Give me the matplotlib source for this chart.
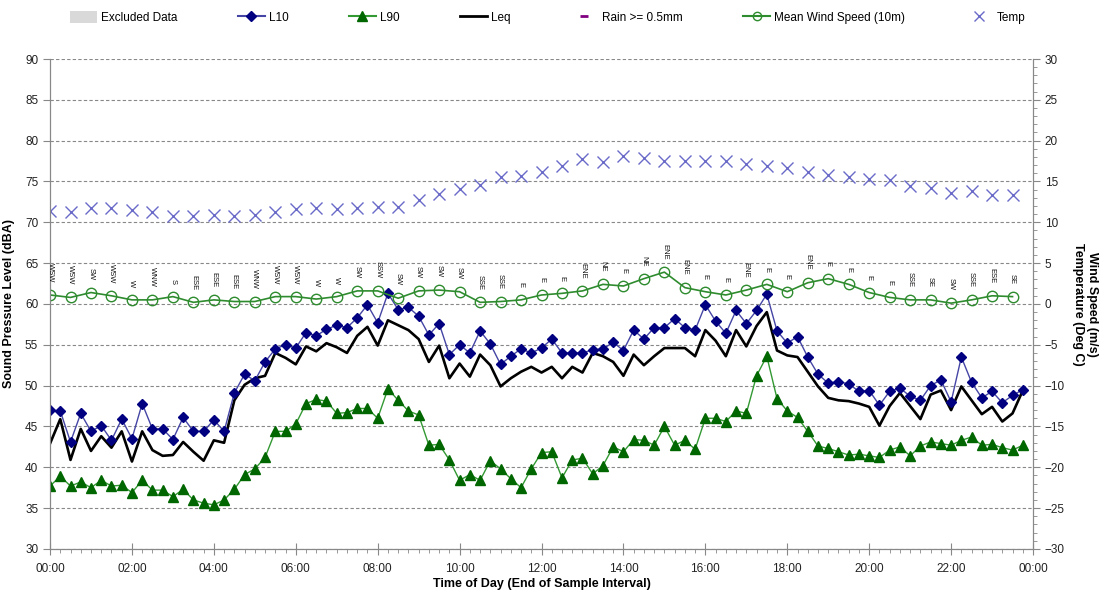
import matplotlib
matplotlib.use("Agg")
import matplotlib.pyplot as plt
from matplotlib.lines import Line2D
from matplotlib.patches import Patch
from matplotlib.ticker import MultipleLocator, FuncFormatter
import numpy as np

plt.rcParams["font.family"] = ["Liberation Sans", "DejaVu Sans"]

# sound levels, 15 minute intervals from 00:00 (dBA)
l10 = [47.0, 46.9, 43.1, 46.6, 44.4, 45.1, 43.3, 45.9, 43.5, 47.8, 44.7, 44.7,
       43.4, 46.1, 44.4, 44.4, 45.8, 44.4, 49.1, 51.4, 50.6, 52.9, 54.5, 55.0,
       54.6, 56.5, 56.1, 56.9, 57.4, 57.1, 58.3, 59.9, 57.7, 61.3, 59.3, 59.6,
       58.5, 56.2, 57.6, 53.8, 55.0, 54.0, 56.7, 55.1, 52.6, 53.6, 54.5, 54.0,
       54.6, 55.7, 54.0, 54.0, 54.0, 54.4, 54.5, 55.3, 54.3, 56.8, 55.7, 57.1,
       57.1, 58.2, 57.1, 56.8, 59.9, 57.9, 56.4, 59.2, 57.6, 59.2, 61.2, 56.7,
       55.2, 56.0, 53.5, 51.4, 50.3, 50.5, 50.2, 49.3, 49.4, 47.6, 49.3, 49.7,
       48.7, 48.2, 50.0, 50.7, 48.0, 53.5, 50.4, 48.5, 49.3, 47.9, 48.8, 49.5]
l90 = [37.7, 38.9, 37.7, 38.2, 37.5, 38.4, 37.7, 37.8, 36.9, 38.4, 37.2, 37.2,
       36.4, 37.3, 36.0, 35.6, 35.4, 36.0, 37.3, 39.1, 39.8, 41.2, 44.4, 44.4,
       45.3, 47.8, 48.3, 48.1, 46.6, 46.7, 47.2, 47.2, 46.0, 49.6, 48.2, 46.9,
       46.4, 42.7, 42.8, 40.9, 38.4, 39.1, 38.4, 40.8, 39.8, 38.6, 37.5, 39.8,
       41.8, 41.9, 38.7, 40.9, 41.1, 39.2, 40.2, 42.5, 41.9, 43.4, 43.3, 42.7,
       45.0, 42.7, 43.3, 42.2, 46.0, 46.0, 45.6, 46.9, 46.6, 51.2, 53.6, 48.4,
       46.9, 46.1, 44.4, 42.6, 42.3, 41.9, 41.5, 41.6, 41.4, 41.2, 42.1, 42.5,
       41.4, 42.6, 43.1, 42.9, 42.7, 43.3, 43.7, 42.7, 42.8, 42.4, 42.1, 42.7]
leq = [42.9, 45.9, 40.9, 44.7, 42.0, 43.8, 42.4, 44.4, 40.7, 44.4, 42.1, 41.4,
       41.5, 43.1, 41.9, 40.8, 43.3, 43.0, 48.2, 50.1, 50.9, 51.2, 54.0, 53.4,
       52.6, 54.8, 54.2, 55.2, 54.7, 54.0, 56.1, 57.2, 54.9, 58.0, 57.4, 56.8,
       55.7, 52.9, 54.9, 50.9, 52.7, 51.1, 53.8, 52.5, 49.9, 50.9, 51.7, 52.3,
       51.6, 52.3, 50.9, 52.3, 51.6, 54.0, 53.6, 52.9, 51.2, 53.8, 52.5, 53.6,
       54.6, 54.6, 54.6, 53.6, 56.8, 55.5, 53.6, 56.8, 54.8, 57.3, 59.0, 54.3,
       53.7, 53.5, 51.7, 49.9, 48.5, 48.2, 48.1, 47.8, 47.4, 45.1, 47.5, 49.1,
       47.5, 45.9, 48.9, 49.4, 47.0, 49.9, 48.2, 46.5, 47.4, 45.6, 46.6, 49.4]

# weather, 30 minute intervals from 00:00
wind_speed = [1.1, 0.8, 1.4, 1.0, 0.5, 0.5, 0.9, 0.2, 0.5, 0.3, 0.3, 0.9,
              0.9, 0.6, 0.9, 1.6, 1.6, 0.7, 1.6, 1.7, 1.5, 0.2, 0.3, 0.5,
              1.1, 1.3, 1.6, 2.4, 2.2, 3.1, 3.9, 2.0, 1.5, 1.1, 1.7, 2.4,
              1.5, 2.6, 3.1, 2.4, 1.4, 0.8, 0.5, 0.5, 0.1, 0.5, 1.0, 0.9]
temp = [11.4, 11.3, 11.8, 11.8, 11.5, 11.3, 10.8, 10.8, 10.9, 10.8, 10.9, 11.3,
        11.6, 11.7, 11.6, 11.7, 11.9, 11.9, 12.7, 13.5, 14.1, 14.6, 15.5, 15.7,
        16.2, 16.9, 17.7, 17.4, 18.1, 17.9, 17.5, 17.5, 17.5, 17.5, 17.1, 16.9,
        16.6, 16.2, 15.8, 15.5, 15.3, 15.2, 14.4, 14.2, 13.6, 13.8, 13.4, 13.3]
wind_dir = ["WSW", "WSW", "SW", "WSW", "W", "WNW", "S", "ESE", "ESE", "ESE",
            "WNW", "WSW", "WSW", "W", "W", "SW", "SSW", "SW", "SW", "SW",
            "SW", "SSE", "SSE", "E", "E", "E", "ENE", "NE", "E", "NE",
            "ENE", "ENE", "E", "E", "ENE", "E", "E", "ENE", "E", "E",
            "E", "E", "SSE", "SE", "SW", "SSE", "ESE", "SE"]

t15 = np.arange(len(l10)) * 0.25
t30 = np.arange(len(wind_speed)) * 0.5

fig = plt.figure(figsize=(11.02, 5.96), dpi=100)
ax = fig.add_axes([0.0454, 0.079, 0.892, 0.822])
ax2 = ax.twinx()

ax.plot(t15, l10, color="#4545A5", lw=1, marker="D", ms=5,
        mfc="#000080", mec="#000080", zorder=4)
ax.plot(t15, l90, color="#339933", lw=1, marker="^", ms=6.5,
        mfc="#006600", mec="#006600", zorder=4)
ax.plot(t15, leq, color="black", lw=1.9, zorder=3)

ax2.plot(t30, wind_speed, color="#2E8B2E", lw=1.2, marker="o", ms=7.5,
         mfc="none", mec="#2E8B2E", mew=1)
ax2.plot(t30, temp, ls="none", marker="x", ms=8.5, mew=1, color="#6A6AC8")
for t, w, d in zip(t30, wind_speed, wind_dir):
    ax2.annotate(d, (t, w), xytext=(0, 9), textcoords="offset points",
                 rotation=270, ha="center", va="bottom", fontsize=5.5,
                 color="#111111")

ax.set_xlim(0, 24)
ax.set_ylim(30, 90)
ax2.set_ylim(-30, 30)

ax.xaxis.set_major_locator(MultipleLocator(2))
ax.xaxis.set_minor_locator(MultipleLocator(0.25))
ax.xaxis.set_major_formatter(FuncFormatter(lambda v, p: "%02d:00" % (int(round(v)) % 24)))
ax.yaxis.set_major_locator(MultipleLocator(5))
ax2.yaxis.set_major_locator(MultipleLocator(5))
ax2.yaxis.set_minor_locator(MultipleLocator(1))

ax.grid(axis="y", color="#888888", ls=(0, (3, 2)), lw=0.8)
ax.set_axisbelow(True)

for a in (ax, ax2):
    a.spines["top"].set_visible(False)
    for s in ("left", "right", "bottom"):
        a.spines[s].set_color("#888888")
ax.tick_params(axis="both", which="major", labelsize=8.5, colors="#888888",
               labelcolor="#222222", length=5, width=0.8)
ax.tick_params(axis="x", which="major", direction="inout", length=8, pad=6)
ax.tick_params(axis="x", which="minor", direction="out", length=3,
               color="#888888", width=0.6)
ax2.tick_params(axis="y", which="major", labelsize=8.5, colors="#888888",
                labelcolor="#222222", length=5, width=0.8)
ax2.tick_params(axis="y", which="minor", length=3, color="#888888", width=0.6)

ax.set_xlabel("Time of Day (End of Sample Interval)", fontsize=9,
              fontweight="bold", labelpad=2)
ax.set_ylabel("Sound Pressure Level (dBA)", fontsize=9, fontweight="bold",
              labelpad=7)
ax2.set_ylabel("Wind Speed (m/s)\nTemperature (Deg C)", fontsize=9,
               fontweight="bold", rotation=270, labelpad=24,
               multialignment="center")

handles = [
    Patch(facecolor="#D9D9D9", edgecolor="none"),
    Line2D([], [], color="#4545A5", marker="D", ms=5, mfc="#000080", mec="#000080"),
    Line2D([], [], color="#339933", marker="^", ms=6.5, mfc="#006600", mec="#006600"),
    Line2D([], [], color="black", lw=2),
    Line2D([], [], ls="none", marker="_", ms=6, mew=2, color="#800080"),
    Line2D([], [], color="#2E8B2E", marker="o", ms=6, mfc="none", mec="#2E8B2E"),
    Line2D([], [], ls="none", marker="x", ms=7, color="#6A6AC8"),
]
labels = ["Excluded Data", "L10", "L90", "Leq", "Rain >= 0.5mm",
          "Mean Wind Speed (10m)", "Temp"]
fig.legend(handles, labels, loc="upper center", bbox_to_anchor=(0.497, 1.0),
           ncol=7, frameon=False, fontsize=8.5, columnspacing=5.1,
           handlelength=2.3, handleheight=1.2, handletextpad=0.35)

fig.savefig("out.png", dpi=100)
